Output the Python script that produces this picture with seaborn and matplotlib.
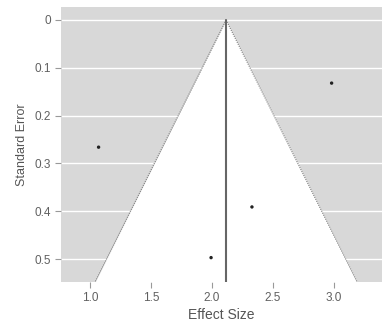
import numpy as np
import pandas as pd
import matplotlib
matplotlib.use("Agg")
import matplotlib.pyplot as plt
import seaborn as sns

# Data
effect_size = [2.98, 1.07, 2.327, 1.992]
std_error = [0.132, 0.266, 0.391, 0.497]
summary_estimate = 2.115
z_crit = 1.96
x_ticks = [1.0, 1.5, 2.0, 2.5, 3.0]
y_ticks = [0, 0.1, 0.2, 0.3, 0.4, 0.5]
y_tick_labels = ["0", "0.1", "0.2", "0.3", "0.4", "0.5"]

sns.set_style("white")
plt.rcParams['font.family'] = ['Liberation Sans', 'DejaVu Sans']

fig = plt.figure(figsize=(3.82, 3.22), dpi=100)
ax = fig.add_axes([0.1597, 0.1242, 0.8403, 0.8538])
ax.set_facecolor("#d8d8d8")
for s in ax.spines.values():
    s.set_visible(False)

ymax = 0.548
se_grid = np.array([0.0, ymax])
left = summary_estimate - z_crit * se_grid
right = summary_estimate + z_crit * se_grid
ax.fill_betweenx(se_grid, left, right, color="white", zorder=1, lw=0)

for yt in y_ticks:
    ax.axhline(yt, color="white", lw=1.0, zorder=0.5)

ax.plot(left, se_grid, color="#808080", lw=0.8, ls=(0, (1, 1)), zorder=2)
ax.plot(right, se_grid, color="#808080", lw=0.8, ls=(0, (1, 1)), zorder=2)
ax.plot([summary_estimate, summary_estimate], [0, ymax], color="#666666", lw=1.5, zorder=2)

df = pd.DataFrame({"Effect Size": effect_size, "Standard Error": std_error})
sns.scatterplot(data=df, x="Effect Size", y="Standard Error", ax=ax,
                color="#222222", s=6, edgecolor="none", zorder=3)

ax.set_xlim(0.762, 3.393)
ax.set_ylim(ymax, -0.027)
ax.set_xticks(x_ticks)
ax.set_xticklabels([f"{v:.1f}" for v in x_ticks])
ax.set_yticks(y_ticks)
ax.set_yticklabels(y_tick_labels)
ax.tick_params(axis="both", which="both", direction="out", length=4, width=0.8,
               color="#999999", labelcolor="#606060", labelsize=8.5, pad=3,
               bottom=True, left=True)
ax.set_xlabel("Effect Size", fontsize=10, color="#555555", labelpad=3)
ax.set_ylabel("Standard Error", fontsize=9, color="#555555", labelpad=5)
ax.grid(False)

fig.savefig("out.png", dpi=100)
